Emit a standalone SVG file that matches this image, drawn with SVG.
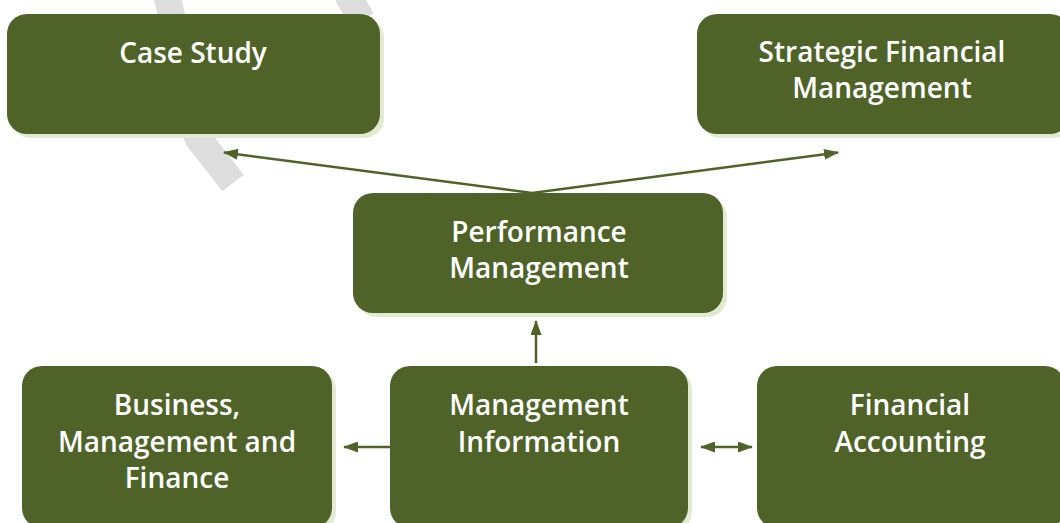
<svg xmlns="http://www.w3.org/2000/svg" width="1060" height="523" viewBox="0 0 1060 523">
<style>
.box{fill:#4f6228}
.sh{fill:#e2ead2}
.t{font-family:"Open Sans","Liberation Sans",sans-serif;font-weight:600;font-size:28px;fill:#ffffff;text-anchor:middle}
.c{stroke:#4f6228;stroke-width:2.5;fill:none}
.wm{stroke:#dddddd;stroke-width:27;fill:none}
</style>
<defs>
<marker id="ah" markerUnits="userSpaceOnUse" markerWidth="15" markerHeight="11" refX="14" refY="5.5" orient="auto-start-reverse">
<path d="M0,0 L15,5.5 L0,11 z" fill="#4f6228"/>
</marker>
</defs>
<g id="watermark">
<path class="wm" d="M166,-6 C180,40 186,110 198,138 L233,183"/>
<path class="wm" stroke-width="25" d="M347,-6 L362,20"/>
</g>
<g id="connectors">
<line class="c" x1="532" y1="193" x2="224" y2="152.5" marker-end="url(#ah)"/>
<line class="c" x1="532" y1="193" x2="838" y2="152.5" marker-end="url(#ah)"/>
<line class="c" x1="536" y1="363" x2="536" y2="321" marker-end="url(#ah)"/>
<line class="c" x1="390" y1="447" x2="344" y2="447" marker-end="url(#ah)"/>
<line class="c" x1="701" y1="447" x2="752" y2="447" marker-start="url(#ah)" marker-end="url(#ah)"/>
</g>
<g id="case-study">
<rect class="sh" x="11" y="18" width="373" height="120" rx="20"/>
<rect class="box" x="7" y="14" width="373" height="120" rx="20"/>
<text class="t" x="193" y="63">Case Study</text>
</g>
<g id="strategic-financial-management">
<rect class="sh" x="701" y="18" width="373" height="120" rx="20"/>
<rect class="box" x="697" y="14" width="373" height="120" rx="20"/>
<text class="t" x="882" y="62">Strategic Financial</text>
<text class="t" x="882" y="98">Management</text>
</g>
<g id="performance-management">
<rect class="sh" x="357" y="197" width="370" height="120" rx="20"/>
<rect class="box" x="353" y="193" width="370" height="120" rx="20"/>
<text class="t" x="539" y="242">Performance</text>
<text class="t" x="539" y="278">Management</text>
</g>
<g id="business-management-finance">
<rect class="sh" x="26" y="370" width="310" height="162" rx="20"/>
<rect class="box" x="22" y="366" width="310" height="162" rx="20"/>
<text class="t" x="177" y="415">Business,</text>
<text class="t" x="177" y="452">Management and</text>
<text class="t" x="177" y="488">Finance</text>
</g>
<g id="management-information">
<rect class="sh" x="394" y="370" width="298" height="162" rx="20"/>
<rect class="box" x="390" y="366" width="298" height="162" rx="20"/>
<text class="t" x="539" y="415">Management</text>
<text class="t" x="539" y="452">Information</text>
</g>
<g id="financial-accounting">
<rect class="sh" x="761" y="370" width="308" height="162" rx="20"/>
<rect class="box" x="757" y="366" width="308" height="162" rx="20"/>
<text class="t" x="910" y="415">Financial</text>
<text class="t" x="910" y="452">Accounting</text>
</g>
</svg>
